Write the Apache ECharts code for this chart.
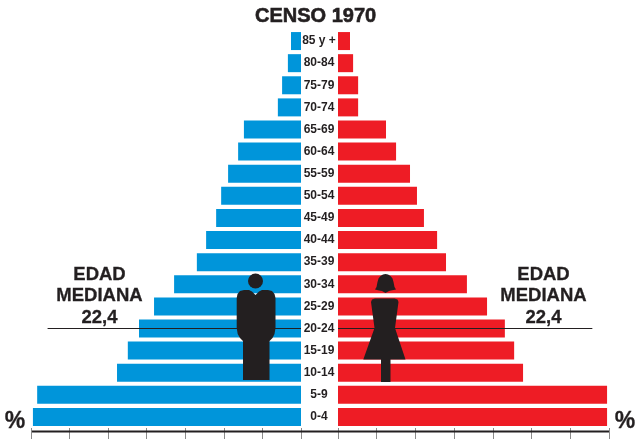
<!DOCTYPE html>
<html>
<head>
<meta charset="utf-8">
<style>
  html, body { margin: 0; padding: 0; background: #fff; }
  #main { width: 637px; height: 440px; }
</style>
<script src="https://cdn.jsdelivr.net/npm/echarts@6/dist/echarts.min.js"></script>
</head>
<body>
<div id="main"></div>
<script>
var categories = ['85 y +', '80-84', '75-79', '70-74', '65-69', '60-64', '55-59', '50-54', '45-49',
    '40-44', '35-39', '30-34', '25-29', '20-24', '15-19', '10-14', '5-9', '0-4'];
var hombres = [0.26, 0.34, 0.49, 0.6, 1.48, 1.63, 1.89, 2.07, 2.2, 2.46, 2.7, 3.29, 3.81, 4.2, 4.49, 4.77, 6.84, 6.95];
var mujeres = [0.31, 0.39, 0.52, 0.52, 1.24, 1.5, 1.86, 2.04, 2.22, 2.56, 2.79, 3.33, 3.85, 4.31, 4.55, 4.78, 6.95, 6.95];
var medianaGrupo = '20-24';
var medianaLargo = 6.57;
var escalaMax = 7;

var oscuro = '#231f20';
var fuente = '"Liberation Sans", Arial, sans-serif';

function eje(index, invertido) {
    return {
        type: 'value', gridIndex: index, min: 0, max: escalaMax, interval: 1, inverse: invertido,
        axisLine: { show: false },
        axisTick: { show: true, length: 11, lineStyle: { color: '#8a8a8a', width: 1 } },
        axisLabel: { show: false },
        splitLine: { show: false }
    };
}

function serie(nombre, index, datos, color) {
    return {
        name: nombre, type: 'bar', xAxisIndex: index, yAxisIndex: index, data: datos,
        barWidth: 18, silent: true, animation: false,
        itemStyle: { color: color },
        markLine: {
            silent: true, symbol: 'none', animation: false, label: { show: false },
            lineStyle: { color: oscuro, width: 1, type: 'solid' },
            data: [[{ coord: [0, medianaGrupo] }, { coord: [medianaLargo, medianaGrupo] }]]
        }
    };
}

function texto(t, x, y, size) {
    return {
        type: 'text', z: 20, silent: true,
        style: { text: t, x: x, y: y, fill: oscuro, stroke: oscuro, lineWidth: 0.3, font: 'bold ' + size + 'px ' + fuente, textAlign: 'center', textVerticalAlign: 'middle' }
    };
}

function figura(puntos) {
    return { type: 'polygon', z: 15, silent: true, shape: { points: puntos }, style: { fill: oscuro } };
}

var option = {
    animation: false,
    backgroundColor: '#fff',
    title: {
        text: 'CENSO 1970', left: 250, top: 1,
        textStyle: { color: oscuro, fontFamily: fuente, fontWeight: 'bold', fontSize: 20, textBorderColor: oscuro, textBorderWidth: 0.6 }
    },
    grid: [
        { left: 31, width: 270, top: 30, height: 398 },
        { left: 338, width: 271, top: 30, height: 398 }
    ],
    xAxis: [eje(0, true), eje(1, false)],
    yAxis: [
        {
            type: 'category', gridIndex: 0, data: categories, inverse: true, position: 'right',
            axisLine: { show: false }, axisTick: { show: false },
            axisLabel: { margin: 18, align: 'center', padding: [4, 0, 0, 0], color: oscuro, fontFamily: fuente, fontWeight: 'bold', fontSize: 12, interval: 0 }
        },
        {
            type: 'category', gridIndex: 1, data: categories, inverse: true,
            axisLine: { show: false }, axisTick: { show: false }, axisLabel: { show: false }
        }
    ],
    series: [
        serie('Hombres', 0, hombres, '#0095da'),
        serie('Mujeres', 1, mujeres, '#ee1c25')
    ],
    graphic: [
        { type: 'line', z: 12, silent: true, shape: { x1: 32, y1: 431.5, x2: 609, y2: 431.5 }, style: { stroke: oscuro, lineWidth: 2 } },
        texto('EDAD', 99.5, 274.5, 18.5),
        texto('MEDIANA', 99.5, 295.5, 18.5),
        texto('22,4', 99.5, 318, 18.5),
        texto('EDAD', 543.5, 274.5, 18.5),
        texto('MEDIANA', 543.5, 295.5, 18.5),
        texto('22,4', 543.5, 318, 18.5),
        texto('%', 15, 422, 23),
        texto('%', 625, 422, 23),
        // hombre
        { type: 'circle', z: 15, silent: true, shape: { cx: 255.5, cy: 281, r: 7.5 }, style: { fill: oscuro } },
        figura([[236.7, 298], [237.5, 294], [240, 291], [244, 290], [249, 290], [252, 291.5], [255.5, 295], [259, 291.5], [262, 290],
            [268, 290], [272, 291], [274.5, 294], [275.5, 298], [275.5, 328], [274.5, 334], [272.5, 338], [269.5, 341],
            [269.5, 380], [243, 380], [243, 341], [240, 338], [237.7, 334], [236.7, 328]]),
        // mujer
        figura([[375, 289.5], [376.5, 287], [377.5, 282], [378.5, 278.5], [380.5, 276], [383, 274.5], [385.5, 274], [388, 274.5], [390.5, 276],
            [392.5, 278.5], [393.5, 282], [394.5, 287], [396, 289.5], [391, 290.5], [389, 291], [385.5, 293], [382, 291], [379, 290.5]]),
        figura([[371, 302], [372, 299.5], [375, 298.5], [394.5, 298.5], [397.5, 299.5], [398.5, 302], [395, 328], [405.5, 359.5],
            [390.5, 359.5], [390.5, 382], [381, 382], [381, 359.5], [363.3, 359.5], [374.5, 328]])
    ]
};

var myChart = echarts.init(document.getElementById('main'), null, { renderer: 'canvas' });
option && myChart.setOption(option);
</script>
</body>
</html>
